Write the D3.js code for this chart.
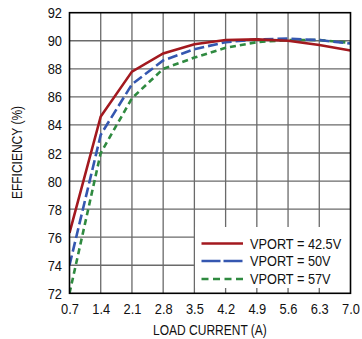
<!DOCTYPE html>
<html><head><meta charset="utf-8">
<script src="https://cdn.jsdelivr.net/npm/d3@7"></script>
<style>body{margin:0;background:#fff;}svg{display:block;}text{font-family:"Liberation Sans",Arial,sans-serif;fill:#111;}</style>
</head><body><svg id="c" width="362" height="339"></svg>
<script>
const loadCurrent = [0.7, 1.4, 2.1, 2.8, 3.5, 4.2, 4.9, 5.6, 6.3, 7.0];
const eff425 = [76.3, 84.6, 87.8, 89.1, 89.75, 90.05, 90.1, 90.0, 89.7, 89.3];
const eff50  = [74.0, 83.3, 86.9, 88.6, 89.4, 89.9, 90.1, 90.15, 90.05, 89.8];
const eff57  = [72.0, 82.0, 85.9, 88.0, 88.8, 89.5, 89.9, 90.05, 90.05, 89.85];
const seriesNames = ["VPORT = 42.5V", "VPORT = 50V", "VPORT = 57V"];
const xTicks = [0.7, 1.4, 2.1, 2.8, 3.5, 4.2, 4.9, 5.6, 6.3, 7.0];
const yTicks = [72, 74, 76, 78, 80, 82, 84, 86, 88, 90, 92];

const colors = ["#a3191f", "#3557b0", "#2f8a40"];
const dashes = [null, "10,4", "6,4"];
const legendDashes = [null, "19,3", "7,4.5"];
const TS = 0.92;   // tick label condensing
const LS = 0.85;   // legend condensing
const HS = 0.8;    // axis title condensing
const FF = '"Liberation Sans",Arial,sans-serif';

const svg = d3.select("#c");
const L = 69.5, R = 350.5, T = 12.7, B = 293.3;
const x = d3.scaleLinear().domain([0.7, 7.0]).range([L, R]);
const y = d3.scaleLinear().domain([72, 92]).range([B, T]);

// grid
const grid = svg.append("g");
grid.selectAll("line.v").data(xTicks.slice(1, -1)).enter().append("line")
  .attr("x1", d => x(d)).attr("x2", d => x(d)).attr("y1", T).attr("y2", B)
  .attr("stroke", "#6a6a6a").attr("stroke-width", 1.3);
grid.selectAll("line.h").data(yTicks.slice(1, -1)).enter().append("line")
  .attr("y1", d => y(d)).attr("y2", d => y(d)).attr("x1", L).attr("x2", R)
  .attr("stroke", "#6a6a6a").attr("stroke-width", 1.3);

// axes (labels)
const xa = svg.append("g").attr("transform", `translate(0,${B})`)
  .call(d3.axisBottom(x).tickValues(xTicks).tickFormat(d3.format(".1f")).tickSize(0).tickPadding(11));
xa.select(".domain").remove();
xa.selectAll("text").attr("font-size", 14).attr("transform", `scale(${TS},1)`).style("font-family", FF).attr("fill", "#111");

const ya = svg.append("g").attr("transform", `translate(${L},0)`)
  .call(d3.axisLeft(y).tickValues(yTicks).tickFormat(d3.format("d")).tickSize(0));
ya.select(".domain").remove();
ya.selectAll("text").attr("font-size", 14).attr("x", -7.5 / TS).attr("dy", "0.36em")
  .attr("transform", `scale(${TS},1)`).style("font-family", FF).attr("fill", "#111");

// lines
const seriesData = [eff425, eff50, eff57];
const line = d3.line().x((d, i) => x(loadCurrent[i])).y(d => y(d));
svg.append("clipPath").attr("id", "pc").append("rect").attr("x", L).attr("y", T).attr("width", R - L).attr("height", B - T);
[2, 1, 0].forEach(k => {
  svg.append("path").datum(seriesData[k]).attr("d", line)
    .attr("fill", "none").attr("stroke", colors[k]).attr("stroke-width", 2.6)
    .attr("stroke-dasharray", dashes[k]).attr("clip-path", "url(#pc)");
});

// legend
const lg = svg.append("g");
lg.append("rect").attr("x", 195).attr("y", 227).attr("width", R - 195).attr("height", 61).attr("fill", "#fff");
const rows = [243.5, 261, 279];
seriesNames.forEach((n, k) => {
  lg.append("line").attr("x1", 201.5).attr("x2", 243).attr("y1", rows[k]).attr("y2", rows[k])
    .attr("stroke", colors[k]).attr("stroke-width", 2.6).attr("stroke-dasharray", legendDashes[k]);
  lg.append("text").attr("x", 250 / LS).attr("y", rows[k] + 5.5).attr("transform", `scale(${LS},1)`)
    .attr("font-size", 15).text(n);
});

// border
svg.append("rect").attr("x", L).attr("y", T).attr("width", R - L).attr("height", B - T)
  .attr("fill", "none").attr("stroke", "#000").attr("stroke-width", 1.6);

// titles
svg.append("text").attr("x", 210 / HS).attr("y", 335).attr("text-anchor", "middle")
  .attr("transform", `scale(${HS},1)`).attr("font-size", 15).text("LOAD CURRENT (A)");
svg.append("text").attr("transform", `translate(22,152.5) rotate(-90) scale(${HS},1)`)
  .attr("text-anchor", "middle").attr("font-size", 15).text("EFFICIENCY (%)");
</script></body></html>
